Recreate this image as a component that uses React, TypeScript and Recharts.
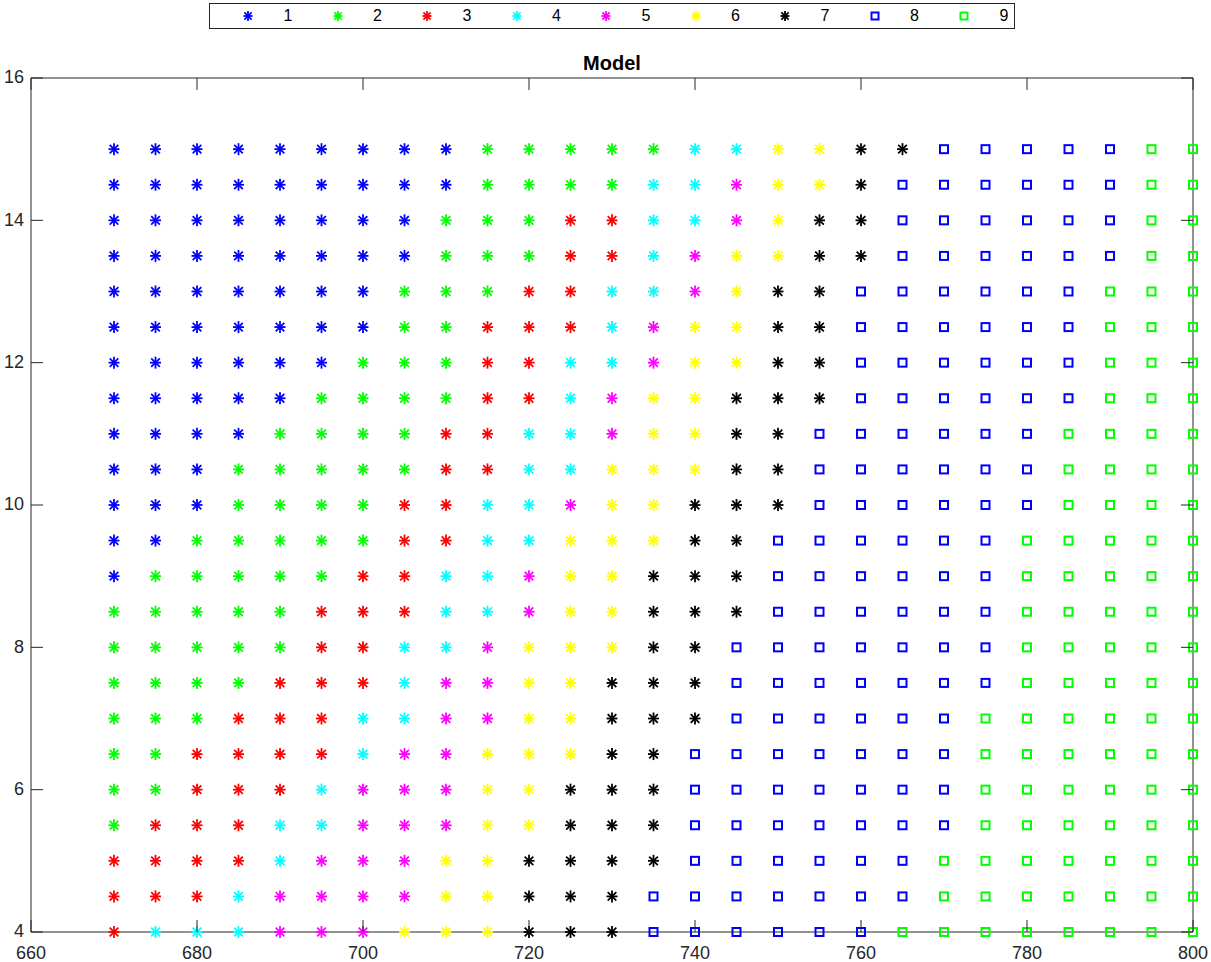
import React from 'react';
import { ScatterChart, Scatter, XAxis, YAxis, ReferenceLine } from 'recharts';

const xValues = [670, 675, 680, 685, 690, 695, 700, 705, 710, 715, 720, 725, 730, 735, 740, 745, 750, 755, 760, 765, 770, 775, 780, 785, 790, 795, 800];
const yValues = [15, 14.5, 14, 13.5, 13, 12.5, 12, 11.5, 11, 10.5, 10, 9.5, 9, 8.5, 8, 7.5, 7, 6.5, 6, 5.5, 5, 4.5, 4];

// class of each grid point, one string per row (top row first), one char per x value
const classRows = [
    '111111111222224466778888899',
    '111111111222244566788888899',
    '111111112223344567788888899',
    '111111112223345667788888899',
    '111111122233445677888888999',
    '111111122333456677888888999',
    '111111222334456677888888999',
    '111112222334566777888888999',
    '111122223344566778888889999',
    '111222223344666778888889999',
    '111222233445667778888889999',
    '112222233446667788888899999',
    '122222334456677788888899999',
    '222223334456677788888899999',
    '222223344566677888888899999',
    '222233345566777888888899999',
    '222333445566777888888999999',
    '223333455666778888888999999',
    '223334555667778888888999999',
    '233344555667778888888999999',
    '333345556677778888889999999',
    '333455556677788888889999999',
    '344455566677788888899999999',
];

const classNames = ['1', '2', '3', '4', '5', '6', '7', '8', '9'];
const classColors = ['#0000ff', '#00ff00', '#ff0000', '#00ffff', '#ff00ff', '#ffff00', '#000000', '#0000ff', '#00ff00'];
const classMarkers = ['star', 'star', 'star', 'star', 'star', 'star', 'star', 'square', 'square'];

const xTicks = [660, 680, 700, 720, 740, 760, 780, 800];
const yTicks = [4, 6, 8, 10, 12, 14, 16];

const PLOT_TOP = 78;
const PLOT_BOTTOM = 932;
const PLOT_LEFT = 31;
const PLOT_RIGHT = 1193;
const AXIS = '#262626';

const seriesData = classNames.map((name) => {
    const pts: { x: number; y: number }[] = [];
    classRows.forEach((row, r) => {
        row.split('').forEach((c, i) => {
            if (c === name) pts.push({ x: xValues[i], y: yValues[r] });
        });
    });
    return pts;
});

const Star = ({ cx, cy, color, r = 6 }: any) => {
    const d = r * 0.72;
    return (
        <g stroke={color} strokeWidth={1.8}>
            <line x1={cx} y1={cy - r} x2={cx} y2={cy + r} />
            <line x1={cx - r + 0.5} y1={cy} x2={cx + r - 0.5} y2={cy} />
            <line x1={cx - d} y1={cy - d} x2={cx + d} y2={cy + d} />
            <line x1={cx - d} y1={cy + d} x2={cx + d} y2={cy - d} />
        </g>
    );
};

const Square = ({ cx, cy, color, s = 8 }: any) => (
    <rect x={cx - s / 2} y={cy - s / 2} width={s} height={s} fill="none" stroke={color} strokeWidth={2} />
);

const XTick = ({ x, y, payload }: any) => (
    <g>
        <line x1={x} y1={PLOT_BOTTOM} x2={x} y2={PLOT_BOTTOM - 12} stroke={AXIS} strokeWidth={1} />
        <line x1={x} y1={PLOT_TOP} x2={x} y2={PLOT_TOP + 12} stroke={AXIS} strokeWidth={1} />
        <text x={x} y={y + 27} textAnchor="middle" fill={AXIS} fontSize={18}>{payload.value}</text>
    </g>
);

const YTick = ({ x, y, payload }: any) => (
    <g>
        <line x1={PLOT_LEFT} y1={y} x2={PLOT_LEFT + 12} y2={y} stroke={AXIS} strokeWidth={1} />
        <line x1={PLOT_RIGHT} y1={y} x2={PLOT_RIGHT - 12} y2={y} stroke={AXIS} strokeWidth={1} />
        <text x={x - 7} y={y} dy="0.3em" textAnchor="end" fill={AXIS} fontSize={18}>{payload.value}</text>
    </g>
);

export default function App() {
    return (
        <div style={{ position: 'absolute', left: 0, top: 0, width: 1211, height: 962, background: '#fff', fontFamily: '"Liberation Sans", Arial, sans-serif' }}>
            <ScatterChart width={1211} height={962} margin={{ top: PLOT_TOP, right: 1211 - PLOT_RIGHT, bottom: 0, left: 0 }}>
                <XAxis
                    type="number"
                    dataKey="x"
                    domain={[660, 800]}
                    ticks={xTicks}
                    height={962 - PLOT_BOTTOM}
                    tickSize={0}
                    tickMargin={0}
                    tickLine={false}
                    stroke={AXIS}
                    tick={<XTick />}
                />
                <YAxis
                    type="number"
                    dataKey="y"
                    domain={[4, 16]}
                    ticks={yTicks}
                    width={PLOT_LEFT}
                    tickSize={0}
                    tickMargin={0}
                    tickLine={false}
                    stroke={AXIS}
                    tick={<YTick />}
                />
                <ReferenceLine y={16} stroke={AXIS} strokeWidth={1} />
                <ReferenceLine x={800} stroke={AXIS} strokeWidth={1} />
                {seriesData.map((pts, i) => (
                    <Scatter
                        key={classNames[i]}
                        name={classNames[i]}
                        data={pts}
                        isAnimationActive={false}
                        shape={(p: any) =>
                            classMarkers[i] === 'star'
                                ? <Star cx={p.cx} cy={p.cy} color={classColors[i]} />
                                : <Square cx={p.cx} cy={p.cy} color={classColors[i]} />
                        }
                    />
                ))}
            </ScatterChart>

            <div style={{ position: 'absolute', left: 0, top: 53, width: PLOT_LEFT + PLOT_RIGHT, textAlign: 'center', fontWeight: 'bold', fontSize: 20, lineHeight: '20px', color: '#000' }}>
                Model
            </div>

            <div style={{ position: 'absolute', left: 209, top: 3, width: 804, height: 24, border: `1px solid ${AXIS}`, background: '#fff' }}>
                {classNames.map((name, i) => {
                    const mx = 38 + i * 89.5;
                    return (
                        <React.Fragment key={name}>
                            <svg style={{ position: 'absolute', left: mx - 7, top: 5 }} width={14} height={14}>
                                {classMarkers[i] === 'star'
                                    ? <Star cx={7} cy={7} color={classColors[i]} r={5} />
                                    : <Square cx={7} cy={7} color={classColors[i]} s={7} />}
                            </svg>
                            <div style={{ position: 'absolute', left: mx + 30, top: 0, width: 20, textAlign: 'center', lineHeight: '24px', fontSize: 16, color: '#000' }}>
                                {name}
                            </div>
                        </React.Fragment>
                    );
                })}
            </div>
        </div>
    );
}
